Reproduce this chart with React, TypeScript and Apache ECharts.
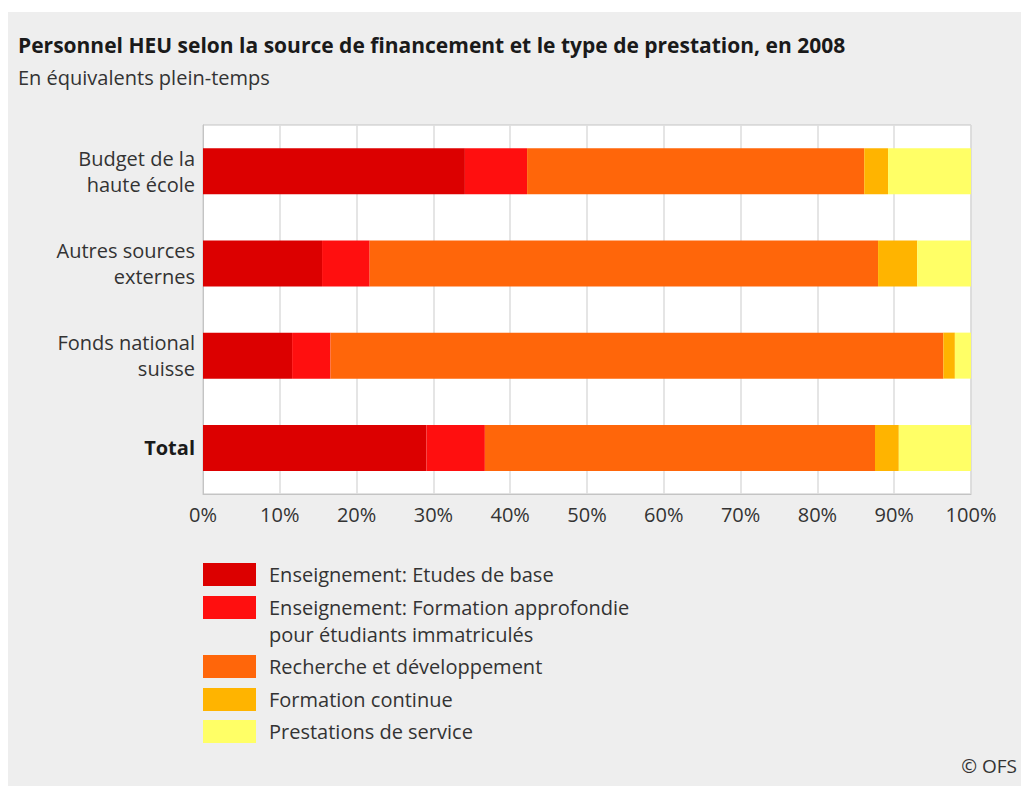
import React, { useEffect, useRef } from "react";
import * as echarts from "echarts";

const categories = [
  "Budget de la\nhaute école",
  "Autres sources\nexternes",
  "Fonds national\nsuisse",
  "Total",
];
const etudesBase = [34.1, 15.5, 11.6, 29.1];
const formationApprofondie = [8.1, 6.2, 5.0, 7.6];
const recherche = [43.9, 66.2, 79.8, 50.8];
const formationContinue = [3.1, 5.1, 1.5, 3.1];
const prestations = [10.8, 7.0, 2.1, 9.4];

const seriesNames = [
  "Enseignement: Etudes de base",
  "Enseignement: Formation approfondie pour étudiants immatriculés",
  "Recherche et développement",
  "Formation continue",
  "Prestations de service",
];
const seriesData = [etudesBase, formationApprofondie, recherche, formationContinue, prestations];
const colors = ["#dc0000", "#ff0f0f", "#ff660a", "#ffb400", "#ffff66"];
const legendTops = [563, 596, 655, 688, 720];

const FONT = "Open Sans";
const TEXT = "#333333";
const FS = 20;

export default function App() {
  const ref = useRef<HTMLDivElement>(null);
  useEffect(() => {
    if (!ref.current) return;
    const chart = echarts.init(ref.current, undefined, { renderer: "svg" });
    const option: any = {
      animation: false,
      textStyle: { fontFamily: FONT },
      title: [
        {
          text: "Personnel HEU selon la source de financement et le type de prestation, en 2008",
          left: 18,
          top: 33,
          padding: 0,
          textStyle: { fontFamily: FONT, fontSize: 21, fontWeight: "bold", color: "#1a1a1a", lineHeight: 24 },
        },
        {
          text: "En équivalents plein-temps",
          left: 18,
          top: 65,
          padding: 0,
          textStyle: { fontFamily: FONT, fontSize: FS, fontWeight: "normal", color: TEXT, lineHeight: 24 },
        },
      ],
      graphic: [
        {
          type: "rect",
          z: -10,
          silent: true,
          shape: { x: 8, y: 12, width: 1013, height: 774 },
          style: { fill: "#eeeeee" },
        },
        {
          type: "text",
          x: 269,
          y: 634,
          style: {
            text: "pour étudiants immatriculés",
            fontFamily: FONT,
            fontSize: FS,
            fill: TEXT,
            verticalAlign: "middle",
          },
        },
        {
          type: "text",
          x: 1017,
          y: 766,
          style: {
            text: "© OFS",
            fontFamily: FONT,
            fontSize: 19,
            fill: TEXT,
            align: "right",
            verticalAlign: "middle",
          },
        },
      ],
      legend: seriesNames.map((name, i) => ({
        data: [name],
        left: 203,
        top: legendTops[i],
        padding: 0,
        itemWidth: 53,
        itemHeight: 23,
        itemGap: 13,
        selectedMode: false,
        icon: "rect",
        formatter: (n: string) =>
          n.startsWith("Enseignement: Formation") ? "Enseignement: Formation approfondie" : n,
        textStyle: { fontFamily: FONT, fontSize: FS, color: TEXT, lineHeight: 23, padding: [0, 0, 0, 8] },
      })),
      grid: {
        left: 203,
        top: 125,
        width: 768,
        height: 369,
        show: true,
        backgroundColor: "#ffffff",
        borderColor: "#c4c4c4",
        borderWidth: 1,
        containLabel: false,
      },
      xAxis: {
        type: "value",
        min: 0,
        max: 100,
        interval: 10,
        axisLine: { show: true, lineStyle: { color: "#c4c4c4" } },
        axisTick: { show: false },
        splitLine: { show: true, lineStyle: { color: "#dcdcdc", width: 1.5 } },
        axisLabel: {
          formatter: "{value}%",
          fontFamily: FONT,
          fontSize: FS,
          color: TEXT,
          margin: 10,
        },
      },
      yAxis: {
        type: "category",
        inverse: true,
        data: categories,
        axisLine: { show: true, lineStyle: { color: "#c4c4c4" } },
        axisTick: { show: false },
        axisLabel: {
          fontFamily: FONT,
          fontSize: FS,
          color: TEXT,
          lineHeight: 26,
          margin: 8,
          align: "right",
          formatter: (v: string) => (v === "Total" ? "{b|Total}" : v),
          rich: {
            b: { fontFamily: FONT, fontSize: FS, fontWeight: "bold", color: "#1a1a1a", lineHeight: 26 },
          },
        },
      },
      series: seriesNames.map((name, i) => ({
        name,
        type: "bar",
        stack: "total",
        barWidth: 46,
        data: seriesData[i],
        itemStyle: { color: colors[i] },
        emphasis: { disabled: true },
      })),
    };
    chart.setOption(option);
    return () => chart.dispose();
  }, []);
  return (
    <div
      ref={ref}
      style={{ position: "fixed", left: 0, top: 0, width: 1021, height: 786, background: "#ffffff" }}
    />
  );
}
